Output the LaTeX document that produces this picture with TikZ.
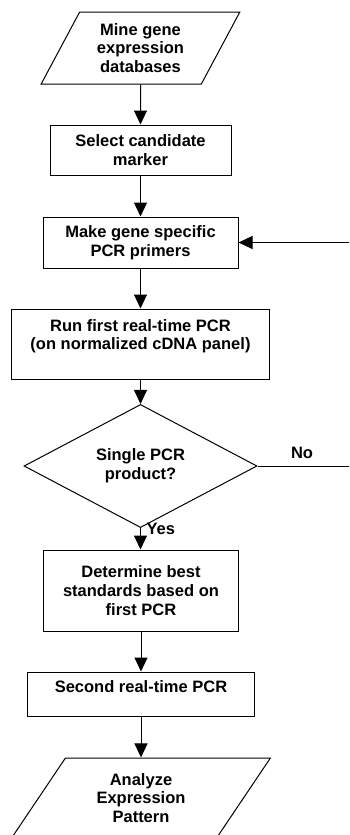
\documentclass[tikz,border=0pt]{standalone}
\usepackage{fontspec}
\setmainfont{Liberation Sans}
\usetikzlibrary{shapes.geometric,arrows.meta}

\begin{document}
\begin{tikzpicture}[x=1pt,y=-1pt,
    box/.style={draw, line width=1pt, align=center, inner sep=0pt,
        font=\fontsize{16.5}{18.8}\selectfont\bfseries},
    iobox/.style={box, trapezium, trapezium stretches=true},
    decision/.style={box, diamond},
    link/.style={line width=1pt, -{Triangle[width=13pt,length=14pt]}}]
    % Page frame
    \useasboundingbox (0,0) rectangle (349,835);
    % Steps of the screen
    \node[iobox, trapezium left angle=61, trapezium right angle=119,
        minimum width=199pt, minimum height=72pt] (mine) at (140.5,48)
        {Mine gene\\expression\\databases};
    \node[box, minimum width=181pt, minimum height=50pt] (select) at (140.5,150)
        {Select candidate\\marker};
    \node[box, minimum width=195pt, minimum height=51pt] (primers) at (140.5,242.5)
        {Make gene specific\\PCR primers};
    \node[box, minimum width=258pt, minimum height=70pt] (firstpcr) at (140.5,344)
        {Run first real-time PCR\\(on normalized cDNA panel)\\\mbox{}};
    \node[decision, minimum width=233pt, minimum height=92pt] (single) at (140.5,466)
        {Single PCR\\product?};
    \node[box, minimum width=195pt, minimum height=81pt] (standards) at (141,590.5)
        {Determine best\\standards based on\\first PCR};
    \node[box, minimum width=227pt, minimum height=44pt, text depth=15pt] (secondpcr) at (141,694)
        {Second real-time PCR};
    \node[iobox, trapezium left angle=57.5, trapezium right angle=122.5,
        minimum width=259pt, minimum height=80pt] (analyze) at (141,798)
        {Analyze\\Expression\\Pattern};
    % Answers of the check
    \node[font=\fontsize{16.5}{18.8}\selectfont\bfseries] (no) at (302,453) {No};
    \node[font=\fontsize{16.5}{18.8}\selectfont\bfseries, anchor=west] (yes) at (143,529) {Yes};
    % Loop back from the right edge
    \coordinate (noend) at (349,466);
    \coordinate (back) at (349,242.5);
    % Arrows
    \draw[link] (mine) -- (select);
    \draw[link] (select) -- (primers);
    \draw[link] (primers) -- (firstpcr);
    \draw[link] (firstpcr) -- (single);
    \draw[link] (single) -- (standards.north -| single);
    \draw[link] (standards) -- (secondpcr);
    \draw[link] (secondpcr) -- (analyze);
    \draw[line width=1pt] (single.east) -- (noend);
    \draw[link] (back) -- (primers.east);
\end{tikzpicture}
\end{document}
